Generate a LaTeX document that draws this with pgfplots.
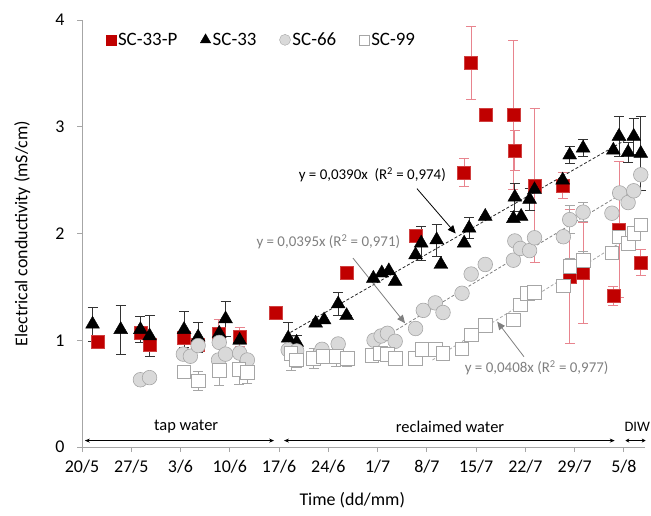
\documentclass[border=0pt]{standalone}
\usepackage{fontspec}
\setmainfont{Carlito}
\usepackage{pgfplots}
\pgfplotsset{compat=1.18}
\usepackage{pgfplotstable}
\usetikzlibrary{arrows.meta}
\definecolor{scred}{HTML}{C00000}
\definecolor{errred}{HTML}{E8848E}
\definecolor{circfill}{HTML}{D9D9D9}
\definecolor{circedge}{HTML}{A6A6A6}
\definecolor{sqedge}{HTML}{A6A6A6}
\definecolor{axgray}{HTML}{A6A6A6}
\definecolor{txtgray}{HTML}{7F7F7F}

\pgfplotstableread{
x y e
2.3 0.99 0
8.3 1.07 0
9.6 0.955 0
14.5 1.02 0
16.5 0.955 0
19.4 1.065 0.13
22.4 1.03 0.09
27.5 1.26 0
37.6 1.63 0
47.4 1.98 0
54.3 2.57 0.13
55.3 3.60 0.34
57.3 3.11 0
61.3 3.11 0.70
61.5 2.78 0.19
64.3 2.45 0.72
68.3 2.45 0.12
69.3 1.60 0.63
71.2 1.63 0.47
75.5 1.415 0.09
76.3 2.04 0.64
79.4 1.73 0.12
}\pdata

\pgfplotstableread{
x y e
1.5 1.15 0.16
5.5 1.10 0.23
8.3 1.10 0.12
9.6 1.04 0.19
14.5 1.10 0.17
16.5 1.03 0.14
19.5 1.065 0
20.4 1.20 0.16
22.4 1.00 0
29.3 1.02 0.15
30.5 0.98 0.07
33.2 1.16 0
34.4 1.19 0
36.4 1.34 0.11
37.6 1.23 0
41.4 1.58 0
42.6 1.63 0
43.6 1.65 0
44.5 1.55 0
47.4 1.80 0
48.2 1.91 0.16
50.4 1.94 0.15
51.0 1.71 0
54.3 1.91 0
55.0 2.05 0.10
57.3 2.16 0
61.3 2.14 0
62.4 2.16 0
61.5 2.34 0.13
63.6 2.32 0.10
64.3 2.41 0
68.3 2.50 0
69.3 2.735 0.08
71.2 2.80 0.08
75.5 2.78 0
76.3 2.91 0.19
77.6 2.76 0.09
78.4 2.91 0.17
79.4 2.75 0.35
}\tdata

\pgfplotstableread{
x y e
8.3 0.63 0
9.6 0.65 0
14.4 0.87 0
15.4 0.85 0
16.5 0.95 0
19.4 0.815 0
19.5 0.98 0
20.4 0.87 0
22.4 0.88 0
23.5 0.815 0
29.3 0.91 0
30.5 0.90 0
34.1 0.915 0
36.4 0.965 0
41.5 1.00 0
42.5 1.04 0
43.4 1.065 0
44.5 0.99 0
47.4 1.11 0
48.5 1.28 0
50.2 1.35 0
51.3 1.26 0
54.0 1.44 0
55.3 1.62 0
57.3 1.71 0
61.3 1.75 0
61.5 1.93 0
62.3 1.86 0
63.6 1.84 0
64.3 1.96 0
68.4 1.97 0.05
69.3 2.13 0.13
71.2 2.20 0.09
75.3 2.19 0
76.4 2.38 0
77.6 2.29 0
78.4 2.40 0
79.4 2.55 0
}\cdata

\pgfplotstableread{
x y e
14.5 0.705 0
16.5 0.62 0.09
19.5 0.72 0.14
22.3 0.73 0.14
23.5 0.70 0.10
29.7 0.88 0.16
30.5 0.815 0.07
32.9 0.83 0.09
34.3 0.85 0
36.1 0.85 0.09
37.7 0.83 0.07
41.2 0.86 0
42.4 0.88 0
43.4 0.87 0
44.5 0.83 0
47.4 0.83 0
48.3 0.915 0
50.2 0.915 0
51.3 0.88 0
54.0 0.92 0
55.3 1.05 0
57.3 1.14 0
61.3 1.19 0
62.3 1.33 0.04
63.3 1.44 0
64.3 1.45 0
68.4 1.51 0
69.3 1.69 0.08
71.2 1.75 0.08
75.3 1.82 0
76.3 1.97 0
77.6 1.91 0
78.4 2.00 0
79.4 2.08 0
}\sdata

\begin{document}
\begin{tikzpicture}
\begin{axis}[name=ax, scale only axis, width=563bp, height=427bp,
  xmin=0, xmax=80, ymin=0, ymax=4,
  axis x line*=bottom, axis y line*=left,
  axis line style={axgray, line width=0.8pt},
  xtick={0,7,...,77},
  xticklabels={20/5,27/5,3/6,10/6,17/6,24/6,1/7,8/7,15/7,22/7,29/7,5/8},
  ytick={0,1,2,3,4},
  tick style={axgray, line width=0.8pt},
  tick align=outside, major tick length=5bp,
  /pgf/number format/assume math mode=true,
  tick label style={font=\fontsize{18}{20}\selectfont, black},
  xticklabel style={yshift=-5bp},
  yticklabel style={xshift=-9bp},
  label style={font=\fontsize{18}{20}\selectfont},
  xlabel={Time (dd/mm)},
  ylabel={Electrical conductivity (mS/cm)},
  x label style={at={(axis description cs:0.48,-0.125)}, anchor=center},
  y label style={at={(axis description cs:-0.106,0.5)}, anchor=center},
  clip=false,
  legend style={at={(axis description cs:0.037,0.98)}, anchor=north west,
    draw=none, fill=none, font=\fontsize{19}{21}\selectfont,
    /tikz/every even column/.append style={column sep=21bp}},
  legend columns=4, legend cell align=left,
]
\addlegendimage{only marks, mark=square*, mark size=5bp, mark options={fill=scred, draw=scred}}
\addlegendentry{SC-33-P}
\addlegendimage{only marks, mark=triangle*, mark size=6bp, mark options={fill=black, draw=black}}
\addlegendentry{SC-33}
\addlegendimage{only marks, mark=*, mark size=5.5bp, mark options={fill=circfill, draw=circedge}}
\addlegendentry{SC-66}
\addlegendimage{only marks, mark=square*, mark size=5bp, mark options={fill=white, draw=sqedge}}
\addlegendentry{SC-99}

\addplot[forget plot, only marks, mark=square*, mark size=6.5bp,
  mark options={fill=scred, draw=scred!75!white, line width=0.4pt},
  error bars/.cd, y dir=both, y explicit,
  error bar style={errred, line width=0.8pt},
  error mark options={rotate=90, errred, line width=0.8pt, mark size=5bp}]
  table[x=x, y=y, y error=e] {\pdata};

\addplot[forget plot, only marks, mark=triangle*, mark size=8bp,
  mark options={fill=black, draw=black},
  error bars/.cd, y dir=both, y explicit,
  error bar style={black!80, line width=0.7pt},
  error mark options={rotate=90, black!80, line width=0.7pt, mark size=5bp}]
  table[x=x, y=y, y error=e] {\tdata};

\addplot[forget plot, only marks, mark=*, mark size=7.3bp,
  mark options={fill=circfill, draw=circedge, line width=0.6pt},
  error bars/.cd, y dir=both, y explicit,
  error bar style={circedge, line width=0.7pt},
  error mark options={rotate=90, circedge, line width=0.7pt, mark size=5bp}]
  table[x=x, y=y, y error=e] {\cdata};

\addplot[forget plot, only marks, mark=square*, mark size=6.8bp,
  mark options={fill=white, draw=sqedge, line width=0.7pt},
  error bars/.cd, y dir=both, y explicit,
  error bar style={sqedge, line width=0.7pt},
  error mark options={rotate=90, sqedge, line width=0.7pt, mark size=5bp}]
  table[x=x, y=y, y error=e] {\sdata};

% trend lines
\addplot[forget plot, black!85, densely dashed, line width=0.8pt] coordinates {(29.0,1.05) (78.4,2.92)};
\addplot[forget plot, txtgray, densely dashed, line width=0.8pt] coordinates {(41.0,0.95) (78.4,2.44)};
\addplot[forget plot, circedge, densely dashed, line width=0.8pt] coordinates {(49.8,0.815) (79.8,2.05)};

% equation labels
\node[font=\fontsize{15}{17}\selectfont, black] at (axis cs:41.25,2.55) {y = 0,0390x\ \ (R\textsuperscript{2} = 0,974)};
\node[font=\fontsize{15}{17}\selectfont, txtgray] at (axis cs:35.0,1.92) {y = 0,0395x (R\textsuperscript{2} = 0,971)};
\node[font=\fontsize{15}{17}\selectfont, txtgray] at (axis cs:64.6,0.74) {y = 0,0408x (R\textsuperscript{2} = 0,977)};
\draw[black, line width=0.8pt, -{Triangle[length=8bp,width=7bp]}] (axis cs:47.6,2.42) -- (axis cs:53.1,2.00);
\draw[txtgray, line width=0.8pt, -{Triangle[length=8bp,width=7bp]}] (axis cs:38.5,1.77) -- (axis cs:45.9,1.16);
\draw[txtgray, line width=0.8pt, -{Triangle[length=8bp,width=7bp]}] (axis cs:62.8,0.846) -- (axis cs:59.0,1.174);

% period annotations
\draw[black, line width=0.9pt, {Stealth[length=5bp,width=4bp]}-{Stealth[length=5bp,width=4bp]}] (axis cs:0.4,0.06) -- (axis cs:27.3,0.06);
\draw[black, line width=0.9pt, {Stealth[length=5bp,width=4bp]}-{Stealth[length=5bp,width=4bp]}] (axis cs:28.7,0.06) -- (axis cs:75.7,0.06);
\draw[black, line width=0.9pt, {Stealth[length=4bp,width=4bp]}-{Stealth[length=4bp,width=4bp]}] (axis cs:77.2,0.06) -- (axis cs:80.1,0.06);
\node[font=\fontsize{16.5}{18}\selectfont] at (axis cs:14.8,0.19) {tap water};
\node[font=\fontsize{16.5}{18}\selectfont] at (axis cs:52.3,0.19) {reclaimed water};
\node[font=\fontsize{14.5}{16}\selectfont] at (axis cs:78.9,0.19) {DIW};
\end{axis}
\pgfresetboundingbox
\path[use as bounding box] ([xshift=-82bp,yshift=-68bp]ax.south west) rectangle ([xshift=6bp,yshift=20bp]ax.north east);
\end{tikzpicture}
\end{document}
